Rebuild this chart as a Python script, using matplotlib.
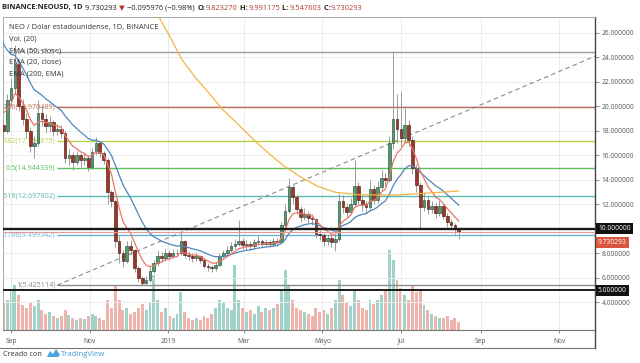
import matplotlib
matplotlib.use("Agg")
import matplotlib.pyplot as plt
import matplotlib.dates as mdates
from matplotlib.lines import Line2D
from matplotlib.patches import Polygon
import numpy as np
from datetime import date

# 3-day candles, Aug 23 2018 -> Aug 15 2019
start = date(2018, 8, 23)
step = 3
first_open = 18.0
closes = [18.5, 18.0, 20.5, 21.5, 23.5, 20.0, 19.0, 18.0, 16.8, 17.0,
          19.5, 19.0, 18.4, 18.7, 18.0, 18.2, 17.8, 15.8, 16.0, 15.5,
          16.0, 15.6, 15.8, 15.1, 16.3, 17.0, 16.2, 15.6, 13.0, 12.3,
          9.0, 8.0, 7.4, 8.6, 8.3, 6.8, 6.0, 5.6, 5.8, 6.6,
          7.2, 7.8, 7.6, 8.0, 7.8, 8.0, 8.0, 9.0, 7.9, 7.8,
          7.6, 7.8, 7.5, 7.0, 6.9, 6.8, 7.1, 7.8, 8.0, 8.3,
          8.6, 8.8, 9.0, 8.7, 8.8, 8.6, 8.9, 9.0, 8.8, 8.9,
          8.8, 9.0, 8.9, 10.3, 11.5, 13.4, 12.6, 11.6, 11.0, 11.2,
          10.9, 10.8, 9.6, 9.5, 9.0, 9.3, 8.9, 9.2, 12.3, 11.8,
          11.4, 12.0, 13.5, 12.4, 12.0, 11.8, 13.3, 12.4, 13.4, 14.2,
          14.0, 17.0, 19.0, 18.2, 17.4, 18.5, 17.3, 15.0, 13.6, 11.8,
          12.4, 11.6, 11.9, 11.3, 11.9, 11.1, 10.6, 10.3, 10.0, 9.730293]
highs = [19.2, 19.0, 21.0, 22.3, 25.0, 23.8, 20.6, 19.5, 18.3, 17.6,
         20.5, 20.0, 19.4, 19.2, 18.9, 18.6, 18.5, 18.0, 16.5, 16.3,
         16.4, 16.2, 16.2, 16.0, 16.6, 17.5, 17.2, 16.4, 15.8, 13.2,
         12.4, 9.4, 8.3, 9.0, 9.1, 8.4, 7.0, 6.2, 6.2, 6.9,
         7.5, 8.3, 8.1, 8.4, 8.3, 8.4, 8.4, 9.75, 9.1, 8.2,
         8.0, 8.1, 7.9, 7.6, 7.2, 7.1, 7.3, 8.0, 8.3, 8.6,
         8.9, 9.2, 10.7, 9.3, 9.1, 9.0, 9.2, 9.4, 9.2, 9.2,
         9.1, 9.3, 9.3, 10.6, 12.0, 14.2, 13.7, 12.8, 11.9, 11.7,
         11.5, 11.2, 10.9, 9.9, 9.7, 9.6, 9.5, 9.5, 12.9, 12.8,
         12.1, 12.5, 15.6, 13.8, 12.7, 12.3, 14.0, 13.6, 13.9, 14.8,
         14.6, 17.6, 24.46, 21.0, 21.3, 20.0, 18.9, 17.6, 15.3, 13.8,
         13.0, 12.6, 12.3, 12.1, 12.4, 12.0, 11.3, 10.8, 10.5, 10.1]
lows = [17.3, 17.4, 17.8, 20.0, 21.0, 19.6, 18.5, 17.4, 16.3, 15.8,
        16.8, 18.4, 17.8, 17.9, 17.6, 17.7, 17.4, 15.4, 15.2, 14.8,
        15.2, 15.1, 15.2, 14.7, 14.9, 16.0, 15.9, 15.3, 12.0, 11.8,
        8.5, 7.2, 6.9, 7.2, 7.9, 6.5, 5.7, 5.43, 5.5, 5.7,
        6.4, 7.0, 7.3, 7.4, 7.5, 7.6, 7.7, 7.9, 7.6, 7.5,
        7.3, 7.4, 7.2, 6.8, 6.6, 6.5, 6.6, 7.0, 7.6, 7.8,
        8.1, 8.4, 8.6, 8.4, 8.4, 8.3, 8.4, 8.7, 8.5, 8.6,
        8.5, 8.6, 8.6, 8.8, 10.1, 11.3, 12.0, 11.2, 10.6, 10.7,
        10.5, 10.3, 9.3, 9.1, 8.6, 8.7, 8.5, 8.2, 9.0, 11.3,
        11.0, 11.2, 11.8, 12.0, 11.5, 11.2, 11.5, 12.0, 12.1, 13.1,
        13.5, 13.8, 16.5, 17.0, 16.8, 17.0, 16.8, 14.5, 13.0, 10.0,
        11.5, 11.2, 11.3, 10.9, 11.1, 10.8, 10.2, 9.9, 9.6, 9.2]
volumes = [22, 28, 30, 40, 45, 35, 25, 22, 28, 24,
           30, 20, 16, 18, 14, 12, 14, 20, 15, 12,
           10, 12, 11, 14, 16, 14, 12, 10, 30, 22,
           45, 30, 20, 22, 16, 18, 22, 26, 20, 28,
           55, 30, 18, 22, 14, 12, 16, 38, 18, 12,
           10, 12, 10, 14, 12, 16, 22, 30, 28, 22,
           20, 65, 30, 22, 18, 20, 16, 24, 18, 22,
           20, 22, 26, 40, 60, 45, 30, 22, 20, 18,
           16, 14, 22, 18, 20, 16, 22, 30, 50, 35,
           28, 24, 40, 30, 22, 20, 30, 26, 30, 35,
           40, 80, 70, 50, 42, 35, 30, 45, 38, 40,
           25, 20, 16, 14, 12, 12, 14, 10, 12, 8]

ema20_seed = 20.5
ema50_seed = 27.0

# EMA(200, EMA)
ema200_dates = [date(2018, 12, 16), date(2018, 12, 25), date(2019, 1, 3), date(2019, 1, 12),
                date(2019, 1, 22), date(2019, 2, 1), date(2019, 2, 12), date(2019, 2, 24),
                date(2019, 3, 8), date(2019, 3, 20), date(2019, 4, 1), date(2019, 4, 14),
                date(2019, 4, 27), date(2019, 5, 11), date(2019, 5, 29), date(2019, 6, 14),
                date(2019, 6, 29), date(2019, 7, 23), date(2019, 8, 15)]
ema200_vals = [29.0, 27.3, 25.6, 23.8, 22.4, 21.2, 19.8, 18.6, 17.35, 16.2,
               15.15, 14.25, 13.5, 13.0, 12.8, 12.78, 12.78, 12.94, 13.1]

fib_ratios = [0, 0.236, 0.382, 0.5, 0.618, 0.786, 1]
fib_colors = ['#9a9a9a', '#c0705a', '#b9d24e', '#5cbf5c', '#5bbcae', '#6ab4d8', '#8a8a8a']
fib_high = 24.463563
fib_low = 5.425114
fib_anchor = date(2018, 10, 7)
fib_end = date(2019, 12, 7)

xtick_dates = [date(2018, 9, 1), date(2018, 11, 1), date(2019, 1, 1), date(2019, 3, 1),
               date(2019, 5, 1), date(2019, 7, 1), date(2019, 9, 1), date(2019, 11, 1)]
xtick_labels = ['Sep', 'Nov', '2019', 'Mar', 'Mayo', 'Jul', 'Sep', 'Nov']
price_ticks = [4, 6, 8, 10, 12, 14, 16, 18, 20, 22, 24, 26]

FONT = 'Open Sans'
W, H = 640, 363

fig = plt.figure(figsize=(6.4, 3.63), dpi=100)
ax = fig.add_axes([3 / W, 1 - 330 / H, 592 / W, 313 / H])
ax2 = ax.twinx()
ax.set_zorder(2)
ax.patch.set_visible(False)
ax2.set_zorder(1)

n = len(closes)
opens = [first_open] + closes[:-1]
xs = mdates.date2num(start) + step * np.arange(n)

# volume
vcol = ['#8fcac0' if c >= o else '#eca69d' for o, c in zip(opens, closes)]
ax2.bar(xs, volumes, width=2.3, color=vcol, alpha=0.85, linewidth=0)
ax2.set_ylim(0, max(volumes) * 3.9)
ax2.axis('off')

# grid
for d in xtick_dates:
    ax.axvline(mdates.date2num(d), color='#ececec', lw=0.7, zorder=0)
for p in price_ticks:
    ax.axhline(p, color='#ececec', lw=0.7, zorder=0)

# fib retracement
a0 = mdates.date2num(fib_anchor)
for r, col in zip(fib_ratios, fib_colors):
    p = fib_high - r * (fib_high - fib_low)
    ax.hlines(p, a0, mdates.date2num(date(2020, 1, 1)), color=col, lw=1.0, zorder=1)
    ax.text(a0 - 1.5, p, f"{r:g}({p:.6f})", color=col, fontsize=5.2, family=FONT,
            ha='right', va='center', zorder=1, clip_on=True)
ax.plot([a0, mdates.date2num(fib_end)], [fib_low, fib_high], color='#8a8a8a', lw=0.8,
        ls=(0, (4, 3)), zorder=1)

# horizontal levels
ax.axhline(10.0, color='#1a1a1a', lw=1.7, zorder=6)
ax.axhline(5.0, color='#1a1a1a', lw=1.4, zorder=6)
ax.axhline(closes[-1], color='#e39a96', lw=0.8, zorder=6)

# candles
ax.vlines(xs, lows, highs, color='#8d8d8d', lw=0.6, zorder=3)
for x, o, c in zip(xs, opens, closes):
    up = c >= o
    ax.bar(x, max(abs(c - o), 0.05), bottom=min(o, c), width=2.1,
           color='#4f9a6f' if up else '#a03427', edgecolor='#23402f' if up else '#3a120c',
           linewidth=0.4, zorder=4)

# EMAs
def ema(vals, seed, period_days):
    a = 2 / (period_days / step + 1)
    out, e = [], seed
    for v in vals:
        e = e + a * (v - e)
        out.append(e)
    return out

ax.plot(xs, ema(closes, ema50_seed, 50), color='#4e86bd', lw=0.9, zorder=5)
ax.plot(xs, ema(closes, ema20_seed, 20), color='#e8776a', lw=0.9, zorder=5)
ax.plot(mdates.date2num(ema200_dates), ema200_vals, color='#f4b443', lw=0.9, zorder=5)

# limits
x0 = mdates.date2num(date(2018, 9, 1))
ax.set_xlim(x0 - 8 / 1.28, x0 + 581 / 1.28)
ax.set_ylim(1.755, 27.306)

# axes styling (10.000000 is covered by its box)
ax.yaxis.tick_right()
ax.set_yticks(price_ticks)
ax.set_yticklabels(["" if p == 10 else f"{p:.6f}" for p in price_ticks],
                   fontsize=4.8, color='#555555', family=FONT)
ax.tick_params(axis='y', length=3, width=0.6, color='#777777', pad=2)
ax.set_xticks(mdates.date2num(xtick_dates))
ax.set_xticklabels(xtick_labels, fontsize=4.8, color='#555555', family=FONT)
ax.tick_params(axis='x', length=2.5, width=0.6, color='#777777', pad=3)
for side, col, lw in [('top', '#aaaaaa', 0.7), ('left', '#aaaaaa', 0.7),
                      ('bottom', '#777777', 0.8), ('right', '#444444', 1.0)]:
    ax.spines[side].set_color(col)
    ax.spines[side].set_linewidth(lw)
for s in ax2.spines.values():
    s.set_visible(False)

# price boxes on the right axis
trans = ax.get_yaxis_transform()
box_kw = dict(transform=trans, fontsize=4.8, family=FONT, color='white', ha='left',
              va='center', clip_on=False, zorder=10)
ax.text(1.005, 10.0, "10.000000", bbox=dict(boxstyle='square,pad=0.3', fc='#111111', ec='none'), **box_kw)
ax.text(1.005, 5.0, "5.000000", bbox=dict(boxstyle='square,pad=0.3', fc='#111111', ec='none'), **box_kw)
ax.text(1.005, 8.9, f"{closes[-1]:.6f}", bbox=dict(boxstyle='square,pad=0.3', fc='#d95540', ec='none'), **box_kw)

# time-axis frame
fig.add_artist(Line2D([0, 595 / W], [1 - 348 / H] * 2, color='#777777', lw=0.8))
fig.add_artist(Line2D([595 / W] * 2, [1 - 348 / H, 1 - 330 / H], color='#444444', lw=1.0))

# legend lines
legend = ["NEO / Dólar estadounidense, 1D, BINANCE", "Vol. (20)", "EMA (50, close)",
          "EMA (20, close)", "EMA (200, EMA)"]
for i, t in enumerate(legend):
    fig.text(9 / W, 1 - (27 + 11.8 * i) / H, t, fontsize=5.4, family=FONT, color='#333333',
             va='center', ha='left', zorder=20)

# header
red = '#b13a2e'
pieces = [("BINANCE:NEOUSD, 1D", '#222222', 'bold'), (" 9.730293 ", '#222222', 'normal'),
          ("▼", red, 'normal'), (" −0.095976 (−0.98%) ", '#222222', 'normal'),
          ("O:", '#222222', 'bold'), ("9.823270", red, 'normal'),
          (" H:", '#222222', 'bold'), ("9.991175", red, 'normal'),
          (" L:", '#222222', 'bold'), ("9.547603", red, 'normal'),
          (" C:", '#222222', 'bold'), ("9.730293", red, 'normal')]
fig.canvas.draw()
rend = fig.canvas.get_renderer()
xp = 2
for txt, col, wt in pieces:
    fam = ['DejaVu Sans'] if txt == "▼" else [FONT, 'DejaVu Sans']
    t = fig.text(xp / W, 1 - 8 / H, txt, fontsize=5.4, family=fam, color=col,
                 fontweight=wt, va='center', ha='left')
    xp += t.get_window_extent(renderer=rend).width + 0.4

# footer
fig.text(3 / W, 1 - 354 / H, "Creado con", fontsize=5.2, family=FONT, color='#333333',
         va='center', ha='left')
logo = [(47, 357), (50, 351), (53, 354), (56, 349), (60, 355), (58, 357)]
fig.add_artist(Polygon([(x / W, 1 - y / H) for x, y in logo], closed=True,
                       fc='#4aa3df', ec='none', transform=fig.transFigure))
fig.text(61 / W, 1 - 354 / H, "TradingView", fontsize=5.6, family=FONT, color='#3d9ad6',
         va='center', ha='left')

fig.savefig('out.png', dpi=100, facecolor='white')
